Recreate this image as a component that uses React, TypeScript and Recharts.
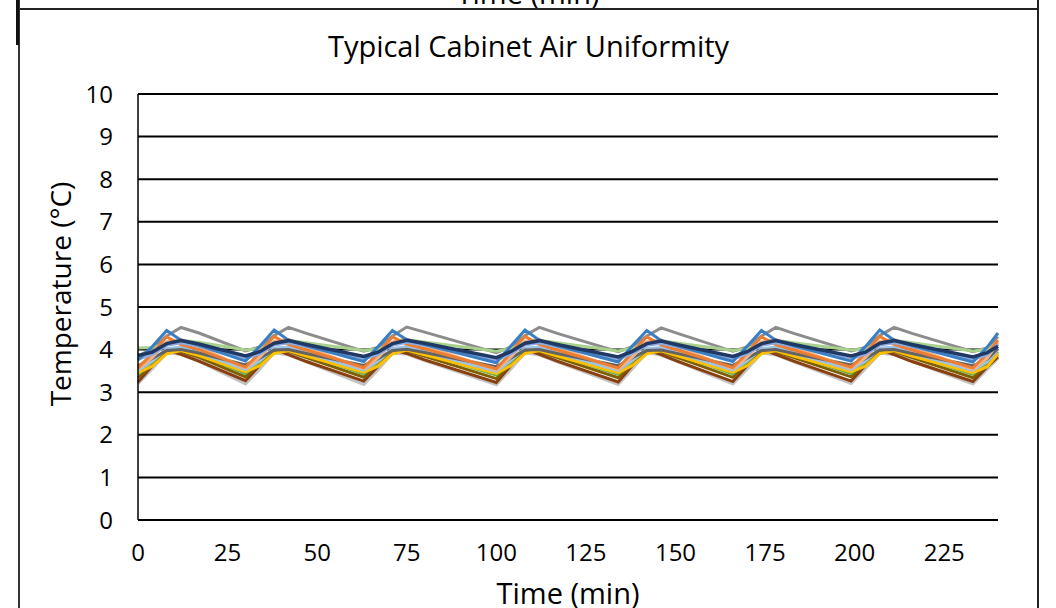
import React from 'react';
import { LineChart, Line, XAxis, YAxis, CartesianGrid, Label } from 'recharts';

const timeMin = [0,4,8,12,17, 30,34,38,42,47, 63,67,71,75,80, 100,104,108,112,117, 134,138,142,146,151, 166,170,174,178,183, 199,203,207,211,216, 233,237,240];

const lightGray = [3.21,3.56,3.93,3.89,3.73, 3.20,3.55,3.94,3.88,3.72, 3.19,3.54,3.92,3.90,3.75, 3.18,3.55,3.93,3.88,3.72, 3.19,3.56,3.94,3.87,3.71, 3.20,3.55,3.93,3.88,3.72, 3.21,3.56,3.92,3.89,3.73, 3.20,3.55,3.80];
const gray = [3.85,4.02,4.32,4.52,4.39, 3.97,4.06,4.33,4.52,4.38, 3.96,4.05,4.32,4.53,4.41, 3.93,4.06,4.33,4.52,4.38, 3.95,4.07,4.32,4.51,4.37, 3.96,4.06,4.32,4.52,4.38, 3.97,4.05,4.33,4.52,4.38, 3.95,4.04,4.30];
const brown = [3.24,3.62,4.00,3.89,3.73, 3.27,3.63,4.01,3.88,3.72, 3.26,3.61,4.00,3.91,3.76, 3.23,3.62,4.01,3.89,3.73, 3.24,3.63,4.00,3.88,3.71, 3.25,3.62,4.01,3.89,3.73, 3.26,3.63,4.00,3.88,3.72, 3.25,3.60,3.83];
const olive = [3.34,3.67,3.97,3.96,3.82, 3.36,3.68,3.98,3.96,3.81, 3.35,3.67,3.97,3.97,3.84, 3.32,3.68,3.98,3.96,3.81, 3.34,3.69,3.97,3.95,3.80, 3.35,3.68,3.97,3.96,3.81, 3.36,3.67,3.98,3.96,3.81, 3.34,3.66,3.88];
const green = [3.42,3.71,4.01,4.03,3.89, 3.44,3.72,4.02,4.03,3.88, 3.43,3.71,4.01,4.04,3.91, 3.40,3.72,4.02,4.03,3.88, 3.42,3.73,4.01,4.02,3.87, 3.43,3.72,4.01,4.03,3.88, 3.44,3.71,4.02,4.03,3.88, 3.42,3.70,3.95];
const yellow = [3.46,3.61,3.90,3.98,3.86, 3.48,3.62,3.91,3.98,3.85, 3.47,3.61,3.90,3.99,3.88, 3.44,3.62,3.91,3.98,3.85, 3.46,3.63,3.90,3.97,3.84, 3.47,3.62,3.90,3.98,3.85, 3.48,3.61,3.91,3.98,3.85, 3.46,3.60,3.90];
const lightBlue = [3.51,3.73,4.02,4.06,3.93, 3.53,3.74,4.03,4.06,3.92, 3.52,3.73,4.02,4.07,3.95, 3.49,3.74,4.03,4.06,3.92, 3.51,3.75,4.02,4.05,3.91, 3.52,3.74,4.02,4.06,3.92, 3.53,3.73,4.03,4.06,3.92, 3.51,3.72,4.00];
const darkGray = [3.62,3.79,3.98,4.00,3.92, 3.64,3.80,3.99,4.00,3.91, 3.63,3.79,3.98,4.01,3.93, 3.60,3.80,3.99,4.00,3.91, 3.62,3.81,3.98,3.99,3.90, 3.63,3.80,3.98,4.00,3.91, 3.64,3.79,3.99,4.00,3.91, 3.62,3.78,4.03];
const orange = [3.57,3.91,4.30,4.12,4.00, 3.59,3.92,4.31,4.12,3.99, 3.58,3.91,4.30,4.13,4.02, 3.55,3.92,4.31,4.12,3.99, 3.57,3.93,4.30,4.11,3.98, 3.58,3.92,4.30,4.12,3.99, 3.59,3.91,4.31,4.12,3.99, 3.57,3.90,4.22];
const lightOrange = [3.54,3.81,4.18,4.24,4.07, 3.56,3.82,4.19,4.24,4.06, 3.55,3.81,4.18,4.25,4.09, 3.52,3.82,4.19,4.24,4.06, 3.54,3.83,4.18,4.23,4.05, 3.55,3.82,4.18,4.24,4.06, 3.56,3.81,4.19,4.24,4.06, 3.54,3.80,4.17];
const medBlue = [3.77,3.89,4.10,4.16,4.08, 3.79,3.90,4.11,4.16,4.07, 3.78,3.89,4.10,4.17,4.10, 3.75,3.90,4.11,4.16,4.07, 3.77,3.91,4.10,4.15,4.06, 3.78,3.90,4.10,4.16,4.07, 3.79,3.89,4.11,4.16,4.07, 3.77,3.88,4.12];
const lightGreen = [4.04,4.05,4.13,4.22,4.17, 3.99,4.02,4.14,4.22,4.16, 3.98,4.01,4.13,4.23,4.18, 3.96,4.02,4.14,4.22,4.16, 3.97,4.03,4.13,4.21,4.15, 3.98,4.02,4.13,4.22,4.16, 3.99,4.01,4.14,4.22,4.16, 3.97,4.00,4.15];
const blue = [3.76,4.07,4.45,4.22,4.10, 3.73,4.08,4.46,4.22,4.09, 3.72,4.07,4.45,4.23,4.12, 3.69,4.08,4.46,4.22,4.09, 3.71,4.09,4.45,4.21,4.08, 3.72,4.08,4.45,4.22,4.09, 3.73,4.07,4.46,4.22,4.09, 3.71,4.06,4.39];
const navy = [3.86,3.94,4.14,4.21,4.13, 3.85,3.95,4.15,4.21,4.12, 3.84,3.94,4.14,4.22,4.15, 3.81,3.95,4.15,4.21,4.12, 3.83,3.96,4.14,4.20,4.11, 3.84,3.95,4.14,4.21,4.12, 3.85,3.94,4.15,4.21,4.12, 3.83,3.93,4.08];

const yTicks = [0,1,2,3,4,5,6,7,8,9,10];
const xTicks = [0,25,50,75,100,125,150,175,200,225];

const seriesList: { key: string; values: number[]; color: string; width: number }[] = [
  { key: 'lightGray', values: lightGray, color: '#c3c3c3', width: 3.5 },
  { key: 'gray', values: gray, color: '#8c8c8c', width: 3 },
  { key: 'lightGreen', values: lightGreen, color: '#a9d18e', width: 3 },
  { key: 'brown', values: brown, color: '#8a3f0f', width: 3 },
  { key: 'olive', values: olive, color: '#7f6000', width: 3 },
  { key: 'green', values: green, color: '#70ad47', width: 3 },
  { key: 'yellow', values: yellow, color: '#ffc000', width: 3 },
  { key: 'lightBlue', values: lightBlue, color: '#9dc3e6', width: 3 },
  { key: 'darkGray', values: darkGray, color: '#636363', width: 3 },
  { key: 'lightOrange', values: lightOrange, color: '#f4b183', width: 3 },
  { key: 'orange', values: orange, color: '#ed7d31', width: 3 },
  { key: 'medBlue', values: medBlue, color: '#8faadc', width: 3 },
  { key: 'blue', values: blue, color: '#3a7fc4', width: 3 },
  { key: 'navy', values: navy, color: '#1f3864', width: 3.5 },
];

const data = timeMin.map((t, i) => {
  const row: Record<string, number> = { t };
  seriesList.forEach((s) => { row[s.key] = s.values[i]; });
  return row;
});

const FONT = '"Open Sans", "Noto Sans", sans-serif';

const YTitle = () => (
  <text x={40} y={294} transform="rotate(-90 40 294)" textAnchor="middle" dominantBaseline="central" fill="#000" fontSize={28} fontFamily={FONT}>
    Temperature (°C)
  </text>
);

export default function App() {
  return (
    <div style={{ position: 'absolute', left: 0, top: 0, width: 1056, height: 608, background: '#fff', overflow: 'hidden', fontFamily: FONT }}>
      {/* cut-off label of the chart above */}
      <div style={{ position: 'absolute', left: 0, width: 1056, top: -24, textAlign: 'center', fontSize: 29, lineHeight: '34px', color: '#000' }}>Time (min)</div>
      {/* frame lines */}
      <div style={{ position: 'absolute', left: 18, top: 8, width: 1021, height: 2, background: '#222' }} />
      <div style={{ position: 'absolute', left: 18, top: 0, width: 2, height: 608, background: '#333' }} />
      <div style={{ position: 'absolute', left: 16, top: 0, width: 3, height: 45, background: '#111' }} />
      <div style={{ position: 'absolute', left: 1037, top: 0, width: 2, height: 608, background: '#222' }} />
      {/* title */}
      <div style={{ position: 'absolute', left: 20, width: 1017, top: 27, textAlign: 'center', fontSize: 29, lineHeight: '38px', color: '#000' }}>Typical Cabinet Air Uniformity</div>
      <div style={{ position: 'absolute', left: 20, top: 0 }}>
        <LineChart width={1017} height={608} data={data} margin={{ top: 94, right: 39, bottom: 48, left: 58 }}>
          <CartesianGrid vertical={false} stroke="#000" strokeWidth={2} />
          <XAxis
            dataKey="t"
            type="number"
            domain={[0, 240]}
            ticks={xTicks}
            tickLine={false}
            tickSize={0}
            tickMargin={24}
            axisLine={{ stroke: '#000', strokeWidth: 2 }}
            tick={{ fill: '#000', fontSize: 24, fontFamily: FONT }}
            height={40}
            interval={0}
          >
            <Label value="Time (min)" position="insideBottom" offset={-44} style={{ fill: '#000', fontSize: 29, fontFamily: FONT }} />
          </XAxis>
          <YAxis
            type="number"
            domain={[0, 10]}
            ticks={yTicks}
            tickLine={false}
            tickSize={0}
            tickMargin={25}
            axisLine={{ stroke: '#000', strokeWidth: 1.5 }}
            tick={{ fill: '#000', fontSize: 24, fontFamily: FONT }}
            width={60}
            interval={0}
          >
            <Label content={<YTitle />} />
          </YAxis>
          {seriesList.map((s) => (
            <Line key={s.key} dataKey={s.key} stroke={s.color} strokeWidth={s.width} dot={false} activeDot={false} isAnimationActive={false} type="linear" />
          ))}
        </LineChart>
      </div>
    </div>
  );
}
